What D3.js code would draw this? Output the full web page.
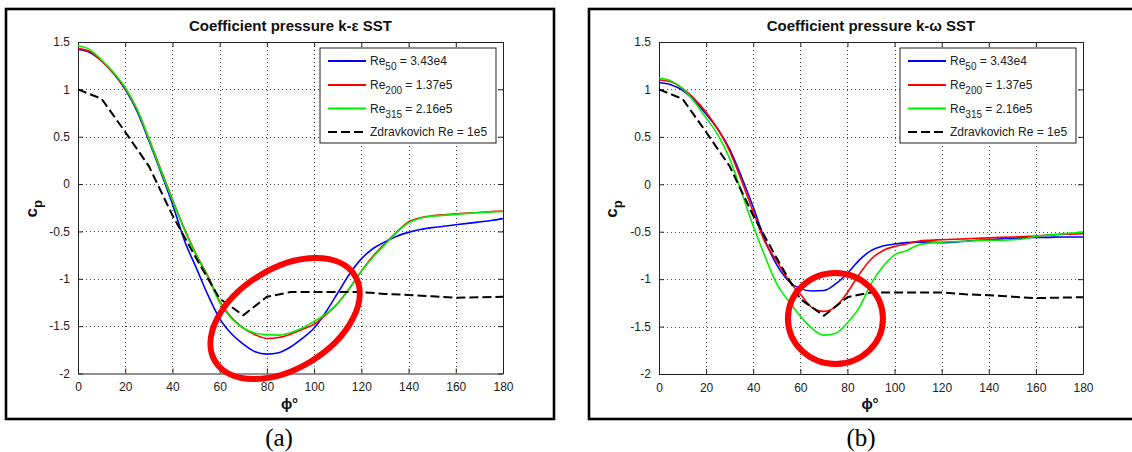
<!DOCTYPE html>
<html><head><meta charset="utf-8">
<script src="https://cdn.jsdelivr.net/npm/d3@7"></script>
<style>
body{margin:0;background:#fff;}
svg{display:block;font-family:"Liberation Sans",Arial,Helvetica,sans-serif;}
</style>
</head><body>
<svg id="chart" width="1132" height="452"></svg>
<script>
// ---------- data ----------
const phiDeg = [0,5,10,15,20,25,30,35,40,45,50,55,60,65,70,75,80,85,90,95,100,105,110,115,120,125,130,135,140,145,150,155,160,165,170,175,180];

// (a) k-epsilon SST
const keRe50  = [1.42,1.39,1.30,1.17,1.00,0.77,0.46,0.13,-0.21,-0.59,-0.88,-1.17,-1.42,-1.58,-1.69,-1.77,-1.795,-1.78,-1.72,-1.63,-1.52,-1.35,-1.15,-0.95,-0.79,-0.68,-0.61,-0.55,-0.51,-0.48,-0.46,-0.445,-0.43,-0.415,-0.40,-0.385,-0.365];
const keRe200 = [1.43,1.40,1.30,1.17,1.01,0.79,0.48,0.16,-0.16,-0.47,-0.74,-0.97,-1.24,-1.41,-1.52,-1.59,-1.63,-1.62,-1.585,-1.535,-1.48,-1.38,-1.26,-1.10,-0.92,-0.76,-0.63,-0.505,-0.40,-0.355,-0.335,-0.325,-0.315,-0.305,-0.30,-0.29,-0.285];
const keRe315 = [1.46,1.42,1.31,1.18,1.02,0.79,0.48,0.15,-0.17,-0.48,-0.75,-0.98,-1.25,-1.42,-1.52,-1.575,-1.59,-1.595,-1.57,-1.52,-1.45,-1.37,-1.26,-1.10,-0.92,-0.77,-0.64,-0.51,-0.41,-0.36,-0.34,-0.33,-0.32,-0.31,-0.30,-0.295,-0.29];

// (b) k-omega SST
const kwRe50  = [1.07,1.05,0.99,0.88,0.74,0.58,0.37,0.08,-0.24,-0.59,-0.85,-1.02,-1.10,-1.125,-1.12,-1.05,-0.94,-0.80,-0.70,-0.65,-0.63,-0.615,-0.61,-0.61,-0.615,-0.61,-0.60,-0.59,-0.585,-0.575,-0.57,-0.565,-0.56,-0.56,-0.555,-0.555,-0.555];
const kwRe200 = [1.10,1.08,1.01,0.90,0.76,0.58,0.35,0.04,-0.29,-0.61,-0.81,-1.01,-1.16,-1.30,-1.34,-1.29,-1.14,-0.95,-0.79,-0.70,-0.655,-0.63,-0.60,-0.59,-0.585,-0.58,-0.575,-0.57,-0.565,-0.56,-0.555,-0.55,-0.545,-0.535,-0.53,-0.525,-0.52];
const kwRe315 = [1.12,1.09,1.01,0.87,0.70,0.52,0.27,-0.08,-0.44,-0.76,-1.05,-1.23,-1.39,-1.52,-1.59,-1.57,-1.46,-1.30,-1.05,-0.87,-0.745,-0.70,-0.64,-0.62,-0.61,-0.605,-0.60,-0.595,-0.59,-0.59,-0.585,-0.575,-0.55,-0.535,-0.525,-0.515,-0.505];

// experimental reference (Zdravkovich, Re = 1e5)
const zdPhi = [0,10,20,30,40,50,60,70,80,90,100,110,120,130,140,150,160,170,180];
const zdCp  = [1.00,0.90,0.55,0.19,-0.33,-0.78,-1.21,-1.385,-1.19,-1.14,-1.14,-1.14,-1.14,-1.16,-1.17,-1.185,-1.20,-1.195,-1.19];

const xTicks = [0,20,40,60,80,100,120,140,160,180];
const yTicks = [1.5,1,0.5,0,-0.5,-1,-1.5,-2];
const legendMain = ["Re","Re","Re","Zdravkovich Re = 1e5"];
const legendSub  = ["50","200","315",""];
const legendTail = [" = 3.43e4"," = 1.37e5"," = 2.16e5",""];
const titles = ["Coefficient pressure k-\u03b5 SST","Coefficient pressure k-\u03c9 SST"];
const panelTags = ["(a)","(b)"];
// highlighted regions (centre in data units)
const highlightPhi = [87.7, 74.9];
const highlightCp  = [-1.42, -1.415];

// ---------- drawing ----------
const svg = d3.select("#chart");
const colors = ["#0000ff","#ff0000","#00f000"];

const panels = [
  {box:[6,9,548,410], px:[78,503], py:[42,373.5], series:[keRe50,keRe200,keRe315],
   ell:{rx:82, ry:50, rot:-31.5}, tagX:279, ylabX:37},
  {box:[589,9,560,410], px:[659,1083], py:[42,374], series:[kwRe50,kwRe200,kwRe315],
   ell:{rx:47.5, ry:45.5, rot:0}, tagX:861, ylabX:617}
];

panels.forEach((p, i) => {
  const g = svg.append("g");
  // outer frame
  g.append("rect").attr("x",p.box[0]).attr("y",p.box[1]).attr("width",p.box[2]).attr("height",p.box[3])
    .attr("fill","#fff").attr("stroke","#000").attr("stroke-width",2.6);

  const x = d3.scaleLinear().domain([0,180]).range(p.px);
  const y = d3.scaleLinear().domain([-2,1.5]).range([p.py[1], p.py[0]]);

  // grid
  const grid = g.append("g").attr("stroke","#444").attr("stroke-width",1).attr("stroke-dasharray","1,3");
  xTicks.slice(1,-1).forEach(t => grid.append("line")
    .attr("x1",Math.round(x(t))+0.5).attr("x2",Math.round(x(t))+0.5).attr("y1",p.py[0]).attr("y2",p.py[1]));
  yTicks.slice(1,-1).forEach(t => grid.append("line")
    .attr("y1",Math.round(y(t))+0.5).attr("y2",Math.round(y(t))+0.5).attr("x1",p.px[0]).attr("x2",p.px[1]));

  // axes (MATLAB-style, ticks inward on all sides)
  const tl = 5;
  const axB = g.append("g").attr("transform",`translate(0,${p.py[1]})`)
    .call(d3.axisBottom(x).tickValues(xTicks).tickSizeInner(-tl).tickSizeOuter(0).tickPadding(9).tickFormat(d3.format("d")));
  const axT = g.append("g").attr("transform",`translate(0,${p.py[0]})`)
    .call(d3.axisTop(x).tickValues(xTicks).tickSizeInner(-tl).tickSizeOuter(0).tickFormat(""));
  const axL = g.append("g").attr("transform",`translate(${p.px[0]},0)`)
    .call(d3.axisLeft(y).tickValues(yTicks).tickSizeInner(-tl).tickSizeOuter(0).tickPadding(8).tickFormat(d => d3.format("")(d).replace("\u2212","-")));
  const axR = g.append("g").attr("transform",`translate(${p.px[1]},0)`)
    .call(d3.axisRight(y).tickValues(yTicks).tickSizeInner(-tl).tickSizeOuter(0).tickFormat(""));
  [axB,axT,axL,axR].forEach(a => {
    a.select(".domain").attr("stroke","#222").attr("stroke-width",1);
    a.selectAll(".tick line").attr("stroke","#222");
    a.selectAll("text").attr("font-size",12).attr("fill","#222")
      .attr("font-family","'Liberation Sans',Arial,sans-serif");
  });

  // curves
  const line = d3.line().x(d => x(d[0])).y(d => y(d[1])).curve(d3.curveMonotoneX);
  const cg = g.append("g");
  p.series.forEach((s, k) => {
    cg.append("path").datum(phiDeg.map((a, j) => [a, s[j]]))
      .attr("d", line).attr("fill","none").attr("stroke",colors[k]).attr("stroke-width",1.6)
      .attr("stroke-linejoin","round");
  });
  const zline = d3.line().x(d => x(d[0])).y(d => y(d[1]));
  cg.append("path").datum(zdPhi.map((a, j) => [a, zdCp[j]]))
    .attr("d", zline).attr("fill","none").attr("stroke","#000").attr("stroke-width",2)
    .attr("stroke-dasharray","9,4");

  // legend
  const lx = p.px[1] - 183, ly = p.py[0] + 6, lw = 176, lh = 95;
  const lg = g.append("g");
  lg.append("rect").attr("x",lx).attr("y",ly).attr("width",lw).attr("height",lh)
    .attr("fill","#fff").attr("stroke","#222").attr("stroke-width",1);
  const rowY = [13, 37, 60.5, 84];
  legendMain.forEach((m, k) => {
    const ry = ly + rowY[k];
    lg.append("line").attr("x1",lx+8).attr("x2",lx+46).attr("y1",ry).attr("y2",ry)
      .attr("stroke", k < 3 ? colors[k] : "#000").attr("stroke-width", k < 3 ? 1.8 : 2)
      .attr("stroke-dasharray", k < 3 ? null : "9,4");
    const t = lg.append("text").attr("x",lx+50).attr("y",ry+4).attr("font-size",12).attr("fill","#222");
    t.append("tspan").text(m);
    if (legendSub[k]) {
      t.append("tspan").attr("dy",5).attr("font-size",10).text(legendSub[k]);
      t.append("tspan").attr("dy",-5).text(legendTail[k]);
    }
  });

  // highlight annotation
  g.append("ellipse").attr("cx",0).attr("cy",0).attr("rx",p.ell.rx).attr("ry",p.ell.ry)
    .attr("transform",`translate(${x(highlightPhi[i])},${y(highlightCp[i])}) rotate(${p.ell.rot})`)
    .attr("fill","none").attr("stroke","#ff0000").attr("stroke-width",6);

  // title
  const cx = (p.px[0] + p.px[1]) / 2;
  g.append("text").attr("x",cx).attr("y",30.5).attr("text-anchor","middle")
    .attr("font-size",15).attr("font-weight","bold").attr("fill","#111").text(titles[i]);

  // axis labels
  g.append("text").attr("x",cx - 1).attr("y",409).attr("text-anchor","middle")
    .attr("font-size",15).attr("font-weight","bold").attr("fill","#111").text("\u03d5\u00b0");
  const yl = g.append("text").attr("transform",`translate(${p.ylabX},${(p.py[0]+p.py[1])/2 + 1}) rotate(-90)`)
    .attr("text-anchor","middle").attr("font-size",17).attr("font-weight","bold").attr("fill","#111");
  yl.append("tspan").text("c");
  yl.append("tspan").attr("dy",5).attr("font-size",13).text("p");

  // panel tag
  svg.append("text").attr("x",p.tagX).attr("y",446).attr("text-anchor","middle")
    .attr("font-family","'Liberation Serif','Times New Roman',serif").attr("font-size",25)
    .attr("fill","#000").text(panelTags[i]);
});
</script>
</body></html>
